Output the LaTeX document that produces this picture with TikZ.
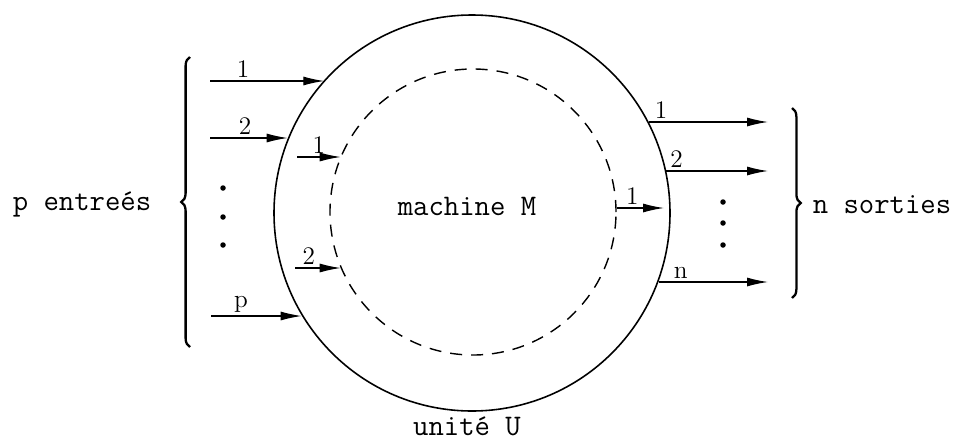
\documentclass[tikz,border=0pt]{standalone}
\usepackage{amsmath}
\usetikzlibrary{arrows.meta,decorations.pathreplacing}

\tikzset{
    flow/.style={-{Latex[length=4.2mm,width=1.8mm]}, line width=0.7pt},
    num/.style={font=\Large, inner sep=1.5pt},
    txt/.style={font=\ttfamily\fontsize{17}{20}\selectfont},
    bracebar/.style={decorate, decoration={brace, amplitude=5pt}, line width=1.3pt},
    dot/.style={circle, fill, inner sep=0pt, minimum size=1.1mm}
}

\begin{document}
\begin{tikzpicture}[x=0.2mm, y=-0.2mm]
    \useasboundingbox (0,0) rectangle (961,442);

    % Draw nodes
    \node[circle, draw, line width=0.9pt, minimum size=79.2mm] (U) at (472,213) {};
    \node[circle, draw, line width=0.8pt, dash pattern=on 2.4mm off 1.8mm, minimum size=57.2mm] (M) at (473,212) {};

    \node[txt] (mach) at (467,206) {machine M};
    \node[txt] (unit) at (467,426) {unité U};
    \node[txt] (ent) at (82,205) {p entreés};
    \node[txt] (sor) at (882,205) {n sorties};

    % Inputs of U
    \coordinate (p1) at (210,81);
    \coordinate (p2) at (210,138);
    \coordinate (pp) at (211,316);
    \draw[flow] (p1) -- (U.138 |- p1) node[pos=0.29, above, num] (lp1) {1};
    \draw[flow] (p2) -- (U.158 |- p2) node[pos=0.45, above, num] (lp2) {2};
    \draw[flow] (pp) -- (U.211 |- pp) node[pos=0.33, above, num] (lpp) {p};

    % Inputs of M
    \coordinate (q1) at (297,157);
    \coordinate (q2) at (295,268);
    \draw[flow] (q1) -- (M.157 |- q1) node[pos=0.5, above, num] (lq1) {1};
    \draw[flow] (q2) -- (M.203 |- q2) node[pos=0.3, above, num] (lq2) {2};

    % Output of M
    \coordinate (r1) at (664,208);
    \draw[flow] (M.2 |- r1) -- (r1) node[pos=0.33, above, num] (lr1) {1};

    % Outputs of U
    \coordinate (s1) at (768,122);
    \coordinate (s2) at (768,171);
    \coordinate (sn) at (768,282);
    \draw[flow] (U.27 |- s1) -- (s1) node[pos=0.1, above, num] (ls1) {1};
    \draw[flow] (U.12 |- s2) -- (s2) node[pos=0.1, above, num] (ls2) {2};
    \draw[flow] (U.340 |- sn) -- (sn) node[pos=0.2, above, num] (lsn) {n};

    % Dots
    \foreach \y [count=\i] in {188,217,245} {
        \node[dot] (dl\i) at (223,\y) {};
    }
    \foreach \y [count=\i] in {202,223,245} {
        \node[dot] (dr\i) at (723,\y) {};
    }

    % Braces
    \coordinate (bl1) at (190,347);
    \coordinate (bl2) at (190,57);
    \coordinate (br1) at (792,108);
    \coordinate (br2) at (792,298);
    \draw[bracebar] (bl1) -- (bl2);
    \draw[bracebar] (br1) -- (br2);
\end{tikzpicture}
\end{document}
